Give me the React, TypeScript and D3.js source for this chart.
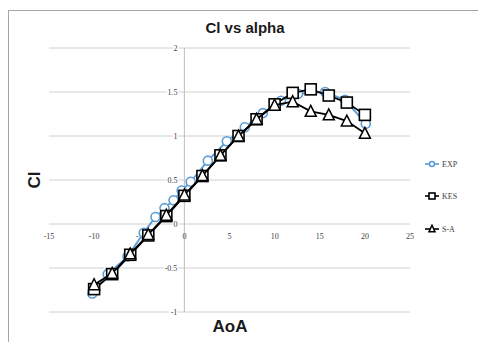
import React, { useEffect } from 'react';
import * as d3 from 'd3';

// Cl vs alpha — experiment vs two turbulence models
const alphaEXP = [-10.2, -8.5, -6.3, -4.5, -3.2, -2.2, -1.2, -0.3, 0.7, 2.6, 4.7, 6.7, 8.7, 10.7, 12.6, 15.6, 17.8, 20.1];
const clEXP = [-0.79, -0.57, -0.37, -0.1, 0.08, 0.18, 0.27, 0.38, 0.48, 0.72, 0.94, 1.1, 1.26, 1.4, 1.48, 1.5, 1.41, 1.14];

const alphaCFD = [-10, -8, -6, -4, -2, 0, 2, 4, 6, 8, 10, 12, 14, 16, 18, 20];
const clKES = [-0.74, -0.57, -0.35, -0.13, 0.09, 0.32, 0.545, 0.78, 1.0, 1.19, 1.36, 1.49, 1.53, 1.46, 1.38, 1.24];
const clSA = [-0.69, -0.56, -0.34, -0.12, 0.1, 0.33, 0.55, 0.78, 1.0, 1.19, 1.35, 1.39, 1.28, 1.24, 1.17, 1.03];

const xTicks = [-15, -10, -5, 0, 5, 10, 15, 20, 25];
const yTicks = [-1, -0.5, 0, 0.5, 1, 1.5, 2];
const seriesNames = ['EXP', 'KES', 'S-A'];

const BLUE = '#5b9bd5';
const tickFont = '"Liberation Serif", serif';
const titleFont = '"Liberation Sans", Arial, sans-serif';

function Marker({ kind, x, y, s }: { kind: string; x: number; y: number; s: number }) {
  if (kind === 'EXP') {
    return <circle cx={x} cy={y} r={s / 2} fill="#fff" stroke={BLUE} strokeWidth={1.6} />;
  }
  if (kind === 'KES') {
    return <rect x={x - s / 2} y={y - s / 2} width={s} height={s} fill="#fff" stroke="#000" strokeWidth={1.6} />;
  }
  const h = s * 0.9;
  return (
    <path
      d={`M${x},${y - h / 2 - 1}L${x + s / 2},${y + h / 2}L${x - s / 2},${y + h / 2}Z`}
      fill="#fff"
      stroke="#000"
      strokeWidth={1.5}
    />
  );
}

export default function App() {
  useEffect(() => {
    document.body.style.margin = '0';
    document.body.style.overflow = 'hidden';
  }, []);

  const x = d3.scaleLinear().domain([-15, 25]).range([49, 410]);
  const y = d3.scaleLinear().domain([-1, 2]).range([312, 48]);

  const line = d3
    .line<[number, number]>()
    .x(d => x(d[0]))
    .y(d => y(d[1]));

  const expPts = alphaEXP.map((a, i) => [a, clEXP[i]] as [number, number]);
  const kesPts = alphaCFD.map((a, i) => [a, clKES[i]] as [number, number]);
  const saPts = alphaCFD.map((a, i) => [a, clSA[i]] as [number, number]);

  const legendY = [164, 196, 229];

  return (
    <svg width={478} height={342} style={{ position: 'absolute', left: 0, top: 0, background: '#fff' }}>
      <rect x={8.5} y={10.5} width={480} height={340} fill="#fff" stroke="#a6a6a6" />

      <text x={245} y={33} textAnchor="middle" fontFamily={titleFont} fontWeight="bold" fontSize={15} fill="#1a1a1a">
        Cl vs alpha
      </text>

      {/* horizontal gridlines */}
      {yTicks.map(t => (
        <line key={'g' + t} x1={x(-15)} x2={x(25)} y1={y(t)} y2={y(t)} stroke="#d0d0d0" strokeWidth={1} />
      ))}
      {/* vertical axis at alpha = 0 */}
      <line x1={x(0)} x2={x(0)} y1={y(2)} y2={y(-1)} stroke="#bfbfbf" strokeWidth={1} />

      {/* y tick labels next to axis */}
      {yTicks.map(t => (
        <text
          key={'yl' + t}
          x={x(0) - 7}
          y={y(t) + 3}
          textAnchor="end"
          fontFamily={tickFont}
          fontSize={8}
          fill="#404040"
          stroke="#fff"
          strokeWidth={3}
          paintOrder="stroke"
        >
          {t}
        </text>
      ))}
      {/* x tick labels below zero line */}
      {xTicks.map(t => (
        <text key={'xl' + t} x={x(t)} y={y(0) + 15} textAnchor="middle" fontFamily={tickFont} fontSize={8} fill="#404040">
          {t}
        </text>
      ))}

      {/* series */}
      <path d={line(expPts) || ''} fill="none" stroke={BLUE} strokeWidth={1.8} />
      {expPts.map((p, i) => (
        <Marker key={'e' + i} kind="EXP" x={x(p[0])} y={y(p[1])} s={9} />
      ))}
      <path d={line(kesPts) || ''} fill="none" stroke="#000" strokeWidth={1.8} />
      {kesPts.map((p, i) => (
        <Marker key={'k' + i} kind="KES" x={x(p[0])} y={y(p[1])} s={11} />
      ))}
      <path d={line(saPts) || ''} fill="none" stroke="#000" strokeWidth={1.8} />
      {saPts.map((p, i) => (
        <Marker key={'s' + i} kind="S-A" x={x(p[0])} y={y(p[1])} s={11} />
      ))}

      {/* axis titles */}
      <text
        transform={`translate(40,180) rotate(-90)`}
        textAnchor="middle"
        fontFamily={titleFont}
        fontWeight="bold"
        fontSize={17}
        fill="#1a1a1a"
      >
        Cl
      </text>
      <text x={230} y={332} textAnchor="middle" fontFamily={titleFont} fontWeight="bold" fontSize={17} fill="#1a1a1a">
        AoA
      </text>

      {/* legend */}
      {seriesNames.map((n, i) => (
        <g key={'lg' + n}>
          <line x1={425} x2={439} y1={legendY[i]} y2={legendY[i]} stroke={n === 'EXP' ? BLUE : '#000'} strokeWidth={1.6} />
          <Marker kind={n} x={432} y={legendY[i]} s={n === 'EXP' ? 5 : 6} />
          <text x={442} y={legendY[i] + 3} fontFamily={tickFont} fontSize={8} fill="#404040">
            {n}
          </text>
        </g>
      ))}
    </svg>
  );
}
